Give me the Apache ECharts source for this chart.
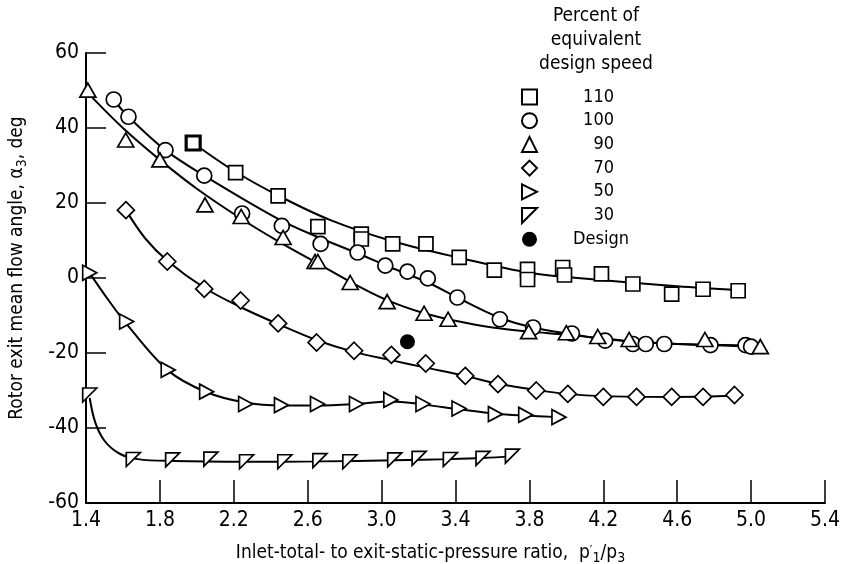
<!DOCTYPE html>
<html>
<head>
<meta charset="utf-8">
<script src="https://cdn.jsdelivr.net/npm/echarts@6/dist/echarts.min.js"></script>
<style>
  html, body { margin: 0; padding: 0; background: #fff; }
  #chart { width: 846px; height: 564px; }
</style>
</head>
<body>
<div id="chart"></div>
<script>
// measured points, [pressure ratio, flow angle deg]
const speed110 = [[1.98,36.0],[2.21,28.1],[2.44,21.9],[2.655,13.7],[2.89,11.7],[2.89,10.4],[3.06,9.1],[3.24,9.1],[3.42,5.5],[3.61,2.1],[3.79,2.3],[3.79,-0.4],[3.98,2.8],[3.99,0.8],[4.19,1.1],[4.36,-1.6],[4.57,-4.3],[4.74,-3.0],[4.93,-3.4]];
const speed100 = [[1.55,47.6],[1.63,43.0],[1.83,34.1],[2.04,27.3],[2.245,17.2],[2.46,13.9],[2.67,9.1],[2.87,6.8],[3.02,3.3],[3.14,1.7],[3.25,-0.1],[3.41,-5.2],[3.64,-11.0],[3.82,-13.2],[4.03,-14.8],[4.21,-16.7],[4.36,-17.6],[4.43,-17.6],[4.53,-17.6],[4.78,-17.9],[4.97,-17.9],[5.0,-18.3]];
const speed90 = [[1.41,50.1],[1.615,36.8],[1.80,31.5],[2.044,19.5],[2.24,16.4],[2.467,10.8],[2.64,4.4],[2.655,4.4],[2.83,-1.2],[3.03,-6.3],[3.23,-9.4],[3.36,-11.0],[3.796,-14.3],[4.0,-14.6],[4.17,-15.6],[4.34,-16.4],[4.75,-16.4],[5.05,-18.3]];
const speed70 = [[1.616,18.1],[1.84,4.4],[2.04,-2.9],[2.237,-6.0],[2.44,-12.1],[2.648,-17.2],[2.851,-19.4],[3.053,-20.5],[3.239,-22.8],[3.453,-26.1],[3.63,-28.3],[3.837,-30.0],[4.008,-30.9],[4.2,-31.7],[4.38,-31.7],[4.57,-31.7],[4.74,-31.7],[4.91,-31.2]];
const speed50 = [[1.42,1.4],[1.62,-11.6],[1.845,-24.5],[2.053,-30.3],[2.264,-33.6],[2.458,-33.9],[2.653,-33.6],[2.864,-33.6],[3.05,-32.5],[3.224,-33.6],[3.419,-34.8],[3.616,-36.3],[3.78,-36.5],[3.96,-37.1]];
const speed30 = [[1.42,-31.2],[1.656,-48.4],[1.869,-48.5],[2.076,-48.3],[2.269,-49.0],[2.476,-49.0],[2.666,-48.7],[2.828,-49.0],[3.071,-48.5],[3.203,-48.1],[3.372,-48.4],[3.549,-48.1],[3.708,-47.5]];
const designPoint = [[3.14,-17.0]];

// faired curves
const curve110 = [[1.98,36],[2.2,28.6],[2.44,22],[2.72,15.5],[3.06,9.8],[3.42,5.4],[3.8,1.4],[4.2,-0.6],[4.6,-2.2],[4.93,-3.2]];
const curve100 = [[1.548,47.6],[1.63,43],[1.83,34.1],[2.04,27.3],[2.45,15.5],[2.67,10.6],[2.87,6.6],[3.05,2.8],[3.25,-1.2],[3.41,-5.2],[3.64,-10.6],[3.82,-13.2],[4.02,-14.9],[4.2,-16.3],[4.5,-17.4],[5.0,-18]];
const curve90 = [[1.407,49.5],[1.6,40],[1.8,31.5],[2.0,23.8],[2.24,15.8],[2.45,9.5],[2.65,4.0],[2.83,-1],[3.03,-5.9],[3.23,-9.4],[3.4,-11.4],[3.6,-13.2],[3.8,-14.3],[4.0,-15.1],[4.34,-16.8],[4.6,-17.6],[5.05,-18.3]];
const curve70 = [[1.616,18.1],[1.72,10.6],[1.84,4.6],[2.04,-2.6],[2.23,-7.6],[2.44,-12.3],[2.65,-16.6],[2.85,-19.7],[3.05,-21.9],[3.24,-23.9],[3.45,-26.1],[3.63,-28.2],[3.84,-29.9],[4.0,-30.9],[4.2,-31.5],[4.6,-31.7],[4.91,-31.4]];
const curve50 = [[1.42,1.3],[1.52,-5.8],[1.62,-12.3],[1.845,-24.7],[2.05,-30.4],[2.26,-33.2],[2.46,-34],[2.65,-34],[2.86,-33.6],[3.05,-32.9],[3.22,-33.7],[3.42,-35],[3.62,-36.2],[3.78,-36.7],[3.96,-37.1]];
const curve30 = [[1.42,-32],[1.45,-38.5],[1.5,-43.4],[1.58,-46.8],[1.68,-48.3],[1.87,-48.8],[2.27,-49],[2.67,-48.9],[3.07,-48.6],[3.37,-48.3],[3.55,-48],[3.71,-47.5]];

const legendNames = ['110', '100', '90', '70', '50', '30', 'Design'];
const xTicks = [1.4, 1.8, 2.2, 2.6, 3.0, 3.4, 3.8, 4.2, 4.6, 5.0, 5.4];
const yTicks = [-60, -40, -20, 0, 20, 40, 60];

const FONT = "'Liberation Sans Narrow', 'DejaVu Sans Condensed', 'Roboto Condensed', 'Liberation Sans', sans-serif";
const INK = '#000';

const chart = echarts.init(document.getElementById('chart'), null, { renderer: 'canvas' });

function pointSeries(name, data, symbol, size) {
  return {
    name: name,
    type: 'scatter',
    data: data,
    symbol: symbol,
    symbolSize: size,
    z: 5,
    itemStyle: { color: '#fff', borderColor: INK, borderWidth: 1.7, opacity: 1 },
    emphasis: { disabled: true }
  };
}

function curveSeries(data) {
  return {
    type: 'line',
    data: data,
    showSymbol: false,
    smooth: 0.35,
    z: 2,
    lineStyle: { color: INK, width: 2 },
    emphasis: { disabled: true },
    silent: true
  };
}

const triRight = 'path://M0,0 L10,5 L0,10 Z';
const triCorner = 'path://M0,0 L10,0 L0,10 Z';

// first 110 point is drawn heavier in the original
const pts110 = speed110.map((p, i) => i === 0 ? { value: p, itemStyle: { borderWidth: 3.2 } } : p);

const option = {
  animation: false,
  backgroundColor: '#fff',
  textStyle: { fontFamily: FONT, color: INK },
  grid: { left: 86, right: 21, top: 53, bottom: 61, containLabel: false, outerBoundsMode: 'none' },
  xAxis: {
    type: 'value',
    min: xTicks[0],
    max: xTicks[xTicks.length - 1],
    interval: 0.4,
    axisLine: { show: true, onZero: false, lineStyle: { color: INK, width: 2 } },
    axisTick: { show: true, inside: true, length: 23, lineStyle: { color: INK, width: 1.5 } },
    splitLine: { show: false },
    axisLabel: { color: INK, fontSize: 21, fontFamily: FONT, margin: 7, formatter: v => v.toFixed(1) },
    name: 'Inlet-total- to exit-static-pressure ratio,  p{sup|\u2032}{sub|1}/p{sub|3}',
    nameLocation: 'middle',
    nameGap: 39,
    nameTextStyle: {
      color: INK, fontSize: 19, fontFamily: FONT, padding: [0, 50, 0, 0],
      rich: {
        sub: { fontSize: 14, fontFamily: FONT, color: INK, padding: [9, 0, 0, 0] },
        sup: { fontSize: 13, fontFamily: FONT, color: INK, padding: [0, 0, 6, 0] }
      }
    }
  },
  yAxis: {
    type: 'value',
    min: yTicks[0],
    max: yTicks[yTicks.length - 1],
    interval: 20,
    axisLine: { show: true, onZero: false, lineStyle: { color: INK, width: 2 } },
    axisTick: { show: true, inside: true, length: 20, lineStyle: { color: INK, width: 1.5 } },
    splitLine: { show: false },
    axisLabel: { color: INK, fontSize: 21, fontFamily: FONT, margin: 7 },
    name: 'Rotor exit mean flow angle, \u03b1{sub|3}, deg',
    nameLocation: 'middle',
    nameRotate: 90,
    nameGap: 57,
    nameTextStyle: {
      color: INK, fontSize: 19, fontFamily: FONT, padding: [0, 0, 0, 20],
      rich: { sub: { fontSize: 14, fontFamily: FONT, color: INK, padding: [9, 0, 0, 0] } }
    }
  },
  legend: {
    data: legendNames,
    orient: 'vertical',
    left: 516,
    top: 82,
    itemWidth: 15,
    itemHeight: 15,
    itemGap: 3.7,
    selectedMode: false,
    textStyle: {
      fontFamily: FONT, fontSize: 18, color: INK, lineHeight: 20,
      rich: {
        n: { fontFamily: FONT, fontSize: 18, color: INK, width: 72, align: 'right' },
        d: { fontFamily: FONT, fontSize: 18, color: INK, width: 87, align: 'right' }
      }
    },
    formatter: name => name === 'Design' ? '{d|' + name + '}' : '{n|' + name + '}'
  },
  graphic: [{
    type: 'text',
    x: 596,
    y: 4,
    style: {
      text: 'Percent of\nequivalent\ndesign speed',
      fontFamily: FONT, fontSize: 19, lineHeight: 24, fill: INK,
      align: 'center', verticalAlign: 'top'
    }
  }],
  series: [
    curveSeries(curve110),
    curveSeries(curve100),
    curveSeries(curve90),
    curveSeries(curve70),
    curveSeries(curve50),
    curveSeries(curve30),
    pointSeries('110', pts110, 'rect', 14),
    pointSeries('100', speed100, 'circle', 15),
    pointSeries('90', speed90, 'triangle', [16, 14]),
    pointSeries('70', speed70, 'diamond', [17, 17]),
    pointSeries('50', speed50, triRight, [14, 15]),
    pointSeries('30', speed30, triCorner, [14, 14]),
    {
      name: 'Design',
      type: 'scatter',
      data: designPoint,
      symbol: 'circle',
      symbolSize: 15,
      z: 6,
      itemStyle: { color: INK, opacity: 1 },
      emphasis: { disabled: true }
    }
  ]
};

chart.setOption(option);
</script>
</body>
</html>
